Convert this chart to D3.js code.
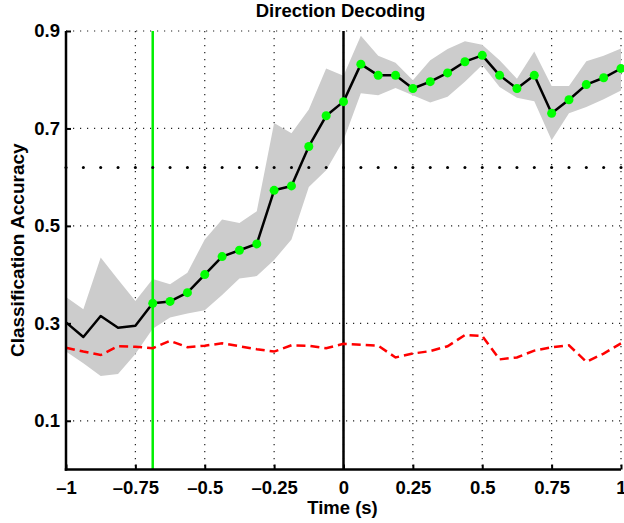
<!DOCTYPE html>
<html>
<head>
<meta charset="utf-8">
<script src="https://cdn.jsdelivr.net/npm/d3@7/dist/d3.min.js"></script>
<style>
  body { margin: 0; background: #fff; }
  text { font-family: "Liberation Sans", Arial, Helvetica, sans-serif; font-weight: bold; fill: #000; }
</style>
</head>
<body>
<svg id="chart"></svg>
<script>
// time points (s)
var times = [-1, -0.9375, -0.875, -0.8125, -0.75, -0.6875, -0.625, -0.5625, -0.5,
  -0.4375, -0.375, -0.3125, -0.25, -0.1875, -0.125, -0.0625, 0,
  0.0625, 0.125, 0.1875, 0.25, 0.3125, 0.375, 0.4375, 0.5,
  0.5625, 0.625, 0.6875, 0.75, 0.8125, 0.875, 0.9375, 1];

// mean accuracy
var accuracy = [0.302, 0.272, 0.315, 0.291, 0.295, 0.341, 0.345, 0.363, 0.400,
  0.437, 0.450, 0.463, 0.573, 0.582, 0.663, 0.726, 0.755,
  0.832, 0.809, 0.809, 0.782, 0.796, 0.814, 0.837, 0.850,
  0.809, 0.782, 0.809, 0.731, 0.759, 0.790, 0.804, 0.823];

// shaded band (upper / lower)
var bandUpper = [0.354, 0.329, 0.435, 0.390, 0.346, 0.391, 0.380, 0.404, 0.472,
  0.513, 0.506, 0.530, 0.711, 0.690, 0.739, 0.823, 0.808,
  0.890, 0.849, 0.835, 0.799, 0.840, 0.863, 0.879, 0.872,
  0.840, 0.802, 0.858, 0.787, 0.787, 0.838, 0.849, 0.864];
var bandLower = [0.242, 0.218, 0.192, 0.196, 0.237, 0.289, 0.312, 0.320, 0.327,
  0.358, 0.392, 0.397, 0.430, 0.472, 0.580, 0.614, 0.676,
  0.772, 0.768, 0.783, 0.768, 0.753, 0.765, 0.796, 0.830,
  0.785, 0.763, 0.756, 0.676, 0.731, 0.744, 0.760, 0.778];

// shuffled / chance accuracy (red dashed)
var chance = [0.250, 0.242, 0.235, 0.253, 0.252, 0.249, 0.264, 0.251, 0.254,
  0.259, 0.253, 0.247, 0.242, 0.255, 0.254, 0.249, 0.258,
  0.256, 0.254, 0.230, 0.238, 0.243, 0.253, 0.276, 0.274,
  0.226, 0.230, 0.244, 0.251, 0.255, 0.221, 0.238, 0.259];

var threshold = 0.62;
var markerStart = -0.6875;   // green vertical line and first green marker
var onsetTime = 0;

var xTicks = [-1, -0.75, -0.5, -0.25, 0, 0.25, 0.5, 0.75, 1];
var yTicks = [0.1, 0.3, 0.5, 0.7, 0.9];

var width = 624, height = 523;
var mLeft = 66, mRight = 621, mTop = 31, mBottom = 469.5;

var svg = d3.select("#chart").attr("width", width).attr("height", height);

var x = d3.scaleLinear().domain([-1, 1]).range([mLeft, mRight]);
var y = d3.scaleLinear().domain([0, 0.9]).range([mBottom, mTop]);

var data = times.map(function(t, i){
  return {t: t, acc: accuracy[i], hi: bandUpper[i], lo: bandLower[i], ch: chance[i]};
});

// grid
var gGrid = svg.append("g");
gGrid.selectAll("line.vg")
  .data(xTicks.slice(1))
  .enter().append("line")
  .attr("x1", function(d){ return x(d); })
  .attr("x2", function(d){ return x(d); })
  .attr("y1", mTop).attr("y2", mBottom)
  .attr("stroke", "#222").attr("stroke-width", 1.2)
  .attr("stroke-dasharray", "1.2,5.8");
gGrid.selectAll("line.hg")
  .data(yTicks)
  .enter().append("line")
  .attr("y1", function(d){ return y(d); })
  .attr("y2", function(d){ return y(d); })
  .attr("x1", mLeft).attr("x2", mRight)
  .attr("stroke", "#222").attr("stroke-width", 1.2)
  .attr("stroke-dasharray", "1.2,5.8");

// band
var area = d3.area()
  .x(function(d){ return x(d.t); })
  .y0(function(d){ return y(d.lo); })
  .y1(function(d){ return y(d.hi); });
svg.append("path")
  .datum(data)
  .attr("d", area)
  .attr("fill", "#cccccc");

// vertical lines
svg.append("line")
  .attr("x1", x(markerStart)).attr("x2", x(markerStart))
  .attr("y1", mTop).attr("y2", mBottom)
  .attr("stroke", "#00f000").attr("stroke-width", 2.5);
svg.append("line")
  .attr("x1", x(onsetTime)).attr("x2", x(onsetTime))
  .attr("y1", mTop).attr("y2", mBottom)
  .attr("stroke", "#000").attr("stroke-width", 2.5);

// threshold dots
svg.append("g").selectAll("circle")
  .data(times)
  .enter().append("circle")
  .attr("cx", function(d){ return x(d); })
  .attr("cy", y(threshold))
  .attr("r", 1.5)
  .attr("fill", "#000");

// chance line
var chanceLine = d3.line()
  .x(function(d){ return x(d.t); })
  .y(function(d){ return y(d.ch); });
svg.append("path")
  .datum(data)
  .attr("d", chanceLine)
  .attr("fill", "none")
  .attr("stroke", "#ff0000")
  .attr("stroke-width", 2.5)
  .attr("stroke-dasharray", "9,5");

// accuracy line
var accLine = d3.line()
  .x(function(d){ return x(d.t); })
  .y(function(d){ return y(d.acc); });
svg.append("path")
  .datum(data)
  .attr("d", accLine)
  .attr("fill", "none")
  .attr("stroke", "#000")
  .attr("stroke-width", 2.5)
  .attr("stroke-linejoin", "round");

// green markers
svg.append("g").selectAll("circle")
  .data(data.filter(function(d){ return d.t >= markerStart; }))
  .enter().append("circle")
  .attr("cx", function(d){ return x(d.t); })
  .attr("cy", function(d){ return y(d.acc); })
  .attr("r", 4.5)
  .attr("fill", "#00ff00");

// axes
var xAxis = d3.axisBottom(x)
  .tickValues(xTicks)
  .tickSize(-5)
  .tickSizeOuter(0)
  .tickPadding(11)
  .tickFormat(function(d){ return String(d).replace("-", "\u2013"); });
var yAxis = d3.axisLeft(y)
  .tickValues(yTicks)
  .tickSize(-5)
  .tickSizeOuter(0)
  .tickPadding(6)
  .tickFormat(d3.format(".1f"));

var gX = svg.append("g")
  .attr("transform", "translate(0," + mBottom + ")")
  .call(xAxis);
var gY = svg.append("g")
  .attr("transform", "translate(" + mLeft + ",0)")
  .call(yAxis);

[gX, gY].forEach(function(g){
  g.select(".domain").attr("stroke", "#000").attr("stroke-width", 2.5);
  g.selectAll(".tick line").attr("stroke", "#000").attr("stroke-width", 2);
  g.selectAll(".tick text")
    .attr("fill", "#000")
    .style("font-size", "18.5px")
    .style("font-family", "'Liberation Sans', Arial, sans-serif")
    .style("font-weight", "bold");
});
gY.select(".domain").attr("d", "M0," + mTop + "V" + (mBottom + 1.25));
gX.select(".domain").attr("d", "M" + (mLeft - 1.25) + ",0H" + mRight);

// labels
svg.append("text")
  .attr("x", (mLeft + mRight) / 2 - 3)
  .attr("y", 17)
  .attr("text-anchor", "middle")
  .style("font-size", "18.5px")
  .text("Direction Decoding");

svg.append("text")
  .attr("x", (mLeft + mRight) / 2 - 1)
  .attr("y", 514)
  .attr("text-anchor", "middle")
  .style("font-size", "18.5px")
  .text("Time (s)");

svg.append("text")
  .attr("transform", "translate(24," + ((mTop + mBottom) / 2) + ") rotate(-90)")
  .attr("text-anchor", "middle")
  .style("font-size", "19px")
  .text("Classification Accuracy");
</script>
</body>
</html>
